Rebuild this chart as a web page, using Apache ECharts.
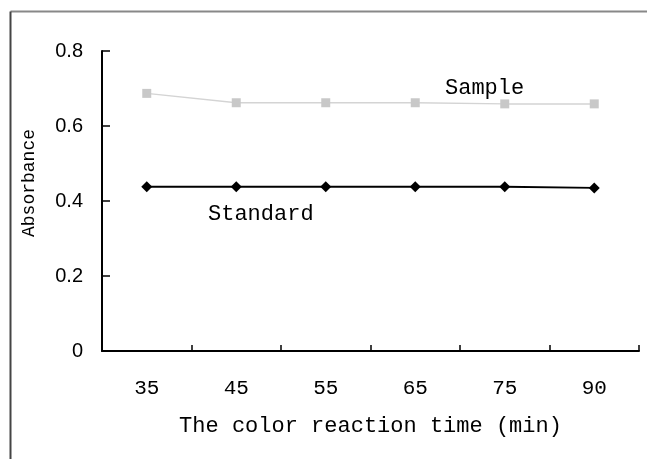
<!DOCTYPE html>
<html>
<head>
<meta charset="utf-8">
<script src="https://cdn.jsdelivr.net/npm/echarts@6/dist/echarts.min.js"></script>
<style>
html,body{margin:0;padding:0;background:#fff;}
#c{width:647px;height:459px;}
</style>
</head>
<body>
<div id="c"></div>
<script>
var categories = ['35', '45', '55', '65', '75', '90'];
var sampleValues = [0.687, 0.662, 0.662, 0.662, 0.659, 0.659];
var standardValues = [0.438, 0.438, 0.438, 0.438, 0.438, 0.435];
var yTicks = [0, 0.2, 0.4, 0.6, 0.8];
var xTitle = 'The color reaction time (min)';
var yTitle = 'Absorbance';

var mono = '"Liberation Mono", "DejaVu Sans Mono", monospace';
var sans = '"Liberation Sans", Arial, sans-serif';

var chart = echarts.init(document.getElementById('c'), null, {renderer: 'canvas'});
chart.setOption({
  animation: false,
  backgroundColor: '#fff',
  grid: {left: 102, right: 8, top: 51, bottom: 108, containLabel: false},
  xAxis: {
    type: 'category',
    data: categories,
    boundaryGap: true,
    name: xTitle,
    nameLocation: 'middle',
    nameGap: 64,
    nameTextStyle: {fontFamily: mono, fontSize: 22, color: '#000'},
    axisLine: {show: true, lineStyle: {color: '#000', width: 2}},
    axisTick: {show: true, inside: true, length: 6, alignWithLabel: false, lineStyle: {color: '#000', width: 1.5}},
    axisLabel: {fontFamily: mono, fontSize: 21, color: '#000', margin: 27},
    splitLine: {show: false}
  },
  yAxis: {
    type: 'value',
    min: yTicks[0],
    max: yTicks[yTicks.length - 1],
    interval: 0.2,
    axisLine: {show: true, lineStyle: {color: '#000', width: 2}},
    axisTick: {show: true, inside: true, length: 8, lineStyle: {color: '#000', width: 1.5}},
    axisLabel: {fontFamily: sans, fontSize: 20, color: '#000', margin: 19},
    splitLine: {show: false}
  },
  series: [
    {
      name: 'Sample',
      type: 'line',
      data: sampleValues,
      symbol: 'rect',
      symbolSize: 9,
      lineStyle: {color: '#d4d4d4', width: 1.5},
      itemStyle: {color: '#c8c8c8'},
      z: 2
    },
    {
      name: 'Standard',
      type: 'line',
      data: standardValues,
      symbol: 'diamond',
      symbolSize: 11,
      lineStyle: {color: '#000', width: 2},
      itemStyle: {color: '#000'},
      z: 3
    }
  ],
  graphic: [
    {type: 'line', shape: {x1: 10.5, y1: 11.5, x2: 647, y2: 11.5}, style: {stroke: '#888', lineWidth: 2}},
    {type: 'line', shape: {x1: 10.5, y1: 11.5, x2: 10.5, y2: 459}, style: {stroke: '#444', lineWidth: 2}},
    {type: 'text', x: 29, y: 183, rotation: Math.PI / 2,
      style: {text: yTitle, font: '18px ' + mono, fill: '#000', align: 'center', verticalAlign: 'middle'}},
    {type: 'text', left: 445, top: 77, style: {text: 'Sample', font: '22px ' + mono, fill: '#000'}},
    {type: 'text', left: 208, top: 203, style: {text: 'Standard', font: '22px ' + mono, fill: '#000'}}
  ]
});
</script>
</body>
</html>
